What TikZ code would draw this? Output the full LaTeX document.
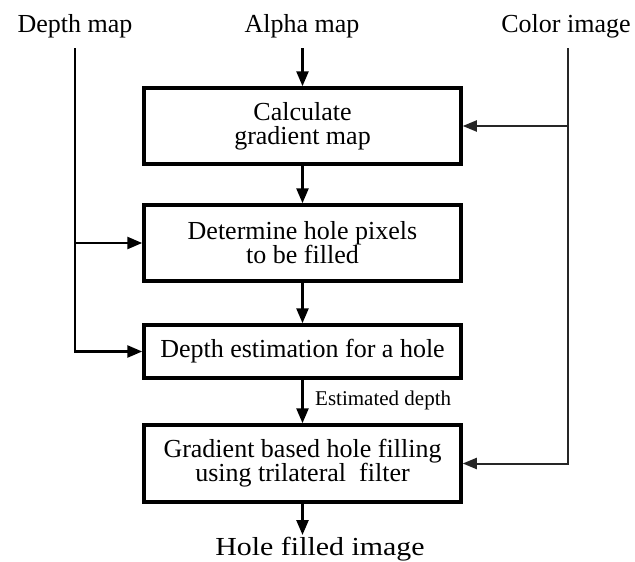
\documentclass[tikz,border=0pt]{standalone}
\usepackage{fontspec}
\setmainfont{Liberation Serif}
\usetikzlibrary{arrows.meta}
\begin{document}
\begin{tikzpicture}[x=1pt,y=-1pt,
  box/.style={draw, line width=3.5pt, minimum width=317pt, inner sep=0pt, align=center,
    font=\fontsize{26}{24}\selectfont},
  conn/.style={line width=2.5pt, -{Triangle[length=15pt,width=12pt]}},
  side/.style={line width=2pt, draw=black!85},
  sidearrow/.style={side, -{Triangle[length=14pt,width=11pt]}},
  lbl/.style={font=\fontsize{26}{30}\selectfont, inner sep=0pt, anchor=base},
  small/.style={font=\fontsize{21}{24}\selectfont, inner sep=0pt, anchor=base west}]
\useasboundingbox (0,0) rectangle (635,562);
\fill[white] (0,0) rectangle (635,562);

% input labels
\node[lbl] (depth) at (75,32) {Depth map};
\node[lbl] (alpha) at (302,32) {Alpha map};
\node[lbl] (color) at (566,32) {Color image};

% boxes
\node[box, minimum height=76pt] (b1) at (302.5,126) {Calculate\\gradient map};
\node[box, minimum height=76pt] (b2) at (302.5,243) {Determine hole pixels\\to be filled};
\node[box, minimum height=53pt] (b3) at (302.5,351.5) {Depth estimation for a hole};
\node[box, minimum height=77pt] (b4) at (302.5,463.5) {Gradient based hole filling\\using trilateral\ \ filter};

% output label
\node[lbl] (out) at (320,555) {\scalebox{1.15}[1]{Hole filled image}};
\node[small] (est) at (315,405) {Estimated depth};

% helper coordinates
\coordinate (atop) at (302.5,48);
\coordinate (dtop) at (75,48);
\coordinate (ctop) at (568,48);
\coordinate (oend) at (302.5,535);

% main flow
\draw[conn] (atop) -- (b1.north);
\draw[conn] (b1.south) -- (b2.north);
\draw[conn] (b2.south) -- (b3.north);
\draw[conn] (b3.south) -- (b4.north);
\draw[conn] (b4.south) -- (oend);

% depth map feed
\draw[conn] (dtop) |- (b3.west);
\draw[conn] (dtop |- b2.west) -- (b2.west);

% color image feed
\draw[sidearrow] (ctop) |- (b4.east);
\draw[sidearrow] (ctop |- b1.east) -- (b1.east);
\end{tikzpicture}
\end{document}
